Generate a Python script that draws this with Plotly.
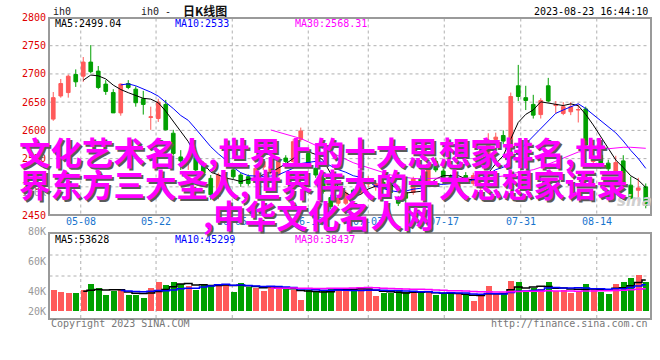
import plotly.graph_objects as go
import pandas as pd

# ---------------- data ----------------
dates = [
    "2023-04-27", "2023-04-28",
    "2023-05-04", "2023-05-05", "2023-05-08", "2023-05-09", "2023-05-10", "2023-05-11", "2023-05-12",
    "2023-05-15", "2023-05-16", "2023-05-17", "2023-05-18", "2023-05-19", "2023-05-22", "2023-05-23",
    "2023-05-24", "2023-05-25", "2023-05-26", "2023-05-29", "2023-05-30", "2023-05-31",
    "2023-06-01", "2023-06-02", "2023-06-05", "2023-06-06", "2023-06-07", "2023-06-08", "2023-06-09",
    "2023-06-12", "2023-06-13", "2023-06-14", "2023-06-15", "2023-06-16", "2023-06-19", "2023-06-20",
    "2023-06-21", "2023-06-26", "2023-06-27", "2023-06-28", "2023-06-29", "2023-06-30",
    "2023-07-03", "2023-07-04", "2023-07-05", "2023-07-06", "2023-07-07", "2023-07-10", "2023-07-11",
    "2023-07-12", "2023-07-13", "2023-07-14", "2023-07-17", "2023-07-18", "2023-07-19", "2023-07-20",
    "2023-07-21", "2023-07-24", "2023-07-25", "2023-07-26", "2023-07-27", "2023-07-28", "2023-07-31",
    "2023-08-01", "2023-08-02", "2023-08-03", "2023-08-04", "2023-08-07", "2023-08-08", "2023-08-09",
    "2023-08-10", "2023-08-11", "2023-08-14", "2023-08-15", "2023-08-16", "2023-08-17", "2023-08-18",
    "2023-08-21", "2023-08-22", "2023-08-23",
]
opens = [2620, 2661, 2667, 2699, 2696, 2721, 2705, 2682, 2667, 2631,
         2683, 2673, 2656, 2623, 2621, 2646, 2595, 2553, 2544, 2556,
         2539, 2515, 2483, 2508, 2530, 2521, 2518, 2509, 2535, 2527,
         2521, 2551, 2545, 2584, 2559, 2533, 2515, 2481, 2471, 2471,
         2494, 2490, 2505, 2500, 2508, 2508, 2481, 2490, 2490, 2514,
         2509, 2545, 2528, 2518, 2500, 2520, 2506, 2498, 2548, 2584,
         2591, 2568, 2679, 2658, 2646, 2628, 2679, 2644, 2630, 2633,
         2636, 2638, 2545, 2556, 2542, 2527, 2546, 2503, 2494, 2500]
highs = [2668, 2691, 2699, 2708, 2730, 2751, 2714, 2689, 2673, 2683,
         2689, 2678, 2670, 2642, 2656, 2654, 2601, 2565, 2558, 2560,
         2545, 2521, 2525, 2524, 2534, 2525, 2522, 2537, 2550, 2540,
         2550, 2556, 2585, 2605, 2566, 2538, 2520, 2486, 2485, 2494,
         2497, 2520, 2519, 2510, 2514, 2512, 2484, 2494, 2518, 2520,
         2548, 2552, 2533, 2522, 2512, 2526, 2525, 2510, 2595, 2596,
         2600, 2667, 2716, 2679, 2663, 2657, 2693, 2652, 2650, 2650,
         2646, 2642, 2562, 2570, 2548, 2555, 2556, 2518, 2516, 2506]
lows = [2617, 2658, 2658, 2677, 2686, 2701, 2673, 2663, 2631, 2626,
        2673, 2642, 2628, 2601, 2615, 2600, 2556, 2530, 2530, 2527,
        2520, 2477, 2478, 2504, 2514, 2500, 2502, 2505, 2530, 2522,
        2518, 2540, 2542, 2580, 2538, 2516, 2488, 2460, 2466, 2468,
        2478, 2486, 2500, 2493, 2495, 2486, 2466, 2470, 2486, 2500,
        2505, 2526, 2506, 2508, 2496, 2505, 2502, 2494, 2545, 2578,
        2576, 2556, 2652, 2636, 2621, 2621, 2650, 2630, 2627, 2627,
        2614, 2570, 2540, 2532, 2528, 2522, 2504, 2478, 2474, 2462]
closes = [2658, 2683, 2696, 2686, 2721, 2704, 2676, 2669, 2631, 2682,
          2676, 2649, 2646, 2624, 2650, 2601, 2559, 2546, 2545, 2530,
          2524, 2486, 2521, 2516, 2518, 2506, 2506, 2533, 2545, 2536,
          2545, 2545, 2580, 2599, 2542, 2521, 2492, 2465, 2481, 2489,
          2483, 2516, 2512, 2506, 2498, 2490, 2471, 2480, 2514, 2505,
          2540, 2530, 2510, 2515, 2505, 2510, 2520, 2505, 2582, 2588,
          2581, 2660, 2660, 2653, 2627, 2653, 2652, 2646, 2642, 2642,
          2637, 2574, 2553, 2536, 2532, 2543, 2507, 2480, 2498, 2467]
volumes = [37200, 33800, 30900, 32100, 37200, 46400, 39000, 27000, 35500, 37200,
           27000, 28000, 23500, 40700, 49900, 44700, 51000, 47500, 44100, 36700,
           47500, 45800, 47500, 46400, 33800, 49200, 42400, 40700, 35500, 41300,
           39500, 39500, 37200, 20000, 36700, 35500, 35500, 39500, 37200, 39500,
           36700, 39500, 38400, 25800, 31600, 31600, 35500, 32600, 30900, 31600,
           35500, 27000, 29800, 29800, 29800, 29800, 18300, 27000, 44000, 29800,
           32000, 52000, 50000, 34500, 40000, 37500, 50000, 35500, 37000, 30900,
           35500, 46400, 40100, 32600, 30300, 47500, 51000, 56200, 62400, 51000]

tick_dates = ["2023-05-08", "2023-05-22", "2023-06-05", "2023-06-19",
              "2023-07-03", "2023-07-17", "2023-07-31", "2023-08-14"]
price_ticks = [2800, 2750, 2700, 2650, 2600, 2550, 2500, 2450]
price_grid = [2750, 2700, 2650, 2600, 2550, 2500]
vol_tick_labels = ["100K", "80K", "60K", "40K", "20K"]
ma_periods = [5, 10, 30]
price_ma_last = [2499.04, 2533, 2568.31]
vol_ma_last = [53628, 45299, 38437]

symbol = "ih0"
chart_name = "日K线图"
timestamp = "2023-08-23 16:44:10"
copyright_text = "Copyright 2023 SINA.COM"
url_text = "http://finance.sina.com.cn"
overlay_lines = ["文化艺术名人,世界上的十大思想家排名,世",
                 "界东方三大圣人,世界伟大的十大思想家语录",
                 ",中华文化名人网"]

# ---------------- style / layout ----------------
W, H = 660, 360
RED, GREEN = "#ff5a5a", "#00a000"
MA_COLORS = ["#000000", "#0000ff", "#ff00ff"]
FRAME = "#9a9a9a"
GRID = "#b0b0b0"
MONO = "DejaVu Sans Mono"
CJK = "Noto Sans CJK SC"

# small pixel nudges of the date grid lines (Sina draws them on a fixed grid)
GRID_NUDGE_PX = [-2.5, -2.2, -1.0, 0.0, 0.0, 1.0, 2.5, 3.5]
BAR_PX = 7.5


def px(x):
    return x / W


def py(y):
    return 1 - y / H


X0, X1 = 49.5, 649.5
P_TOP, P_BOT = 19, 213.5
V_TOP, V_BOT = 234, 318
P_RANGE = [2452.8, 2797.3]
V_RANGE = [-11700, 132600]


def price_to_px(p):
    return P_TOP + (P_RANGE[1] - p) / (P_RANGE[1] - P_RANGE[0]) * (P_BOT - P_TOP)


fig = go.Figure()

# price candles
fig.add_trace(go.Candlestick(
    x=dates, open=opens, high=highs, low=lows, close=closes,
    increasing=dict(line=dict(color=RED, width=1), fillcolor=RED),
    decreasing=dict(line=dict(color=GREEN, width=1), fillcolor=GREEN),
    whiskerwidth=0, showlegend=False, hoverinfo="skip",
    xaxis="x", yaxis="y"))

close_s = pd.Series(closes, dtype=float)
for n, c in zip(ma_periods, MA_COLORS):
    fig.add_trace(go.Scatter(
        x=dates, y=close_s.rolling(n).mean(), mode="lines",
        line=dict(color=c, width=1), showlegend=False, hoverinfo="skip",
        xaxis="x", yaxis="y"))

# volume
bar_colors = [RED if c >= o else GREEN for o, c in zip(opens, closes)]
fig.add_trace(go.Bar(
    x=dates, y=volumes, marker=dict(color=bar_colors, line=dict(width=0)),
    width=0.8, showlegend=False, hoverinfo="skip", xaxis="x2", yaxis="y2"))
vol_s = pd.Series(volumes, dtype=float)
for n, c in zip(ma_periods, MA_COLORS):
    fig.add_trace(go.Scatter(
        x=dates, y=vol_s.rolling(n).mean(), mode="lines",
        line=dict(color=c, width=1.5, shape="hvh"), showlegend=False,
        hoverinfo="skip", xaxis="x2", yaxis="y2"))

axis_common = dict(showgrid=False, zeroline=False, showticklabels=False,
                   showline=True, linecolor=FRAME, linewidth=1.5, mirror=True,
                   ticks="")
fig.update_layout(
    width=W, height=H, margin=dict(l=0, r=0, t=0, b=0),
    paper_bgcolor="white", plot_bgcolor="white", showlegend=False,
    bargap=0,
    xaxis=dict(domain=[px(X0), px(X1)], type="category", categoryorder="array",
               categoryarray=dates, range=[-0.5, len(dates) - 0.5], anchor="y",
               rangeslider=dict(visible=False), **axis_common),
    yaxis=dict(domain=[py(P_BOT), py(P_TOP)], range=P_RANGE, anchor="x", **axis_common),
    xaxis2=dict(domain=[px(X0), px(X1)], type="category", categoryorder="array",
                categoryarray=dates, range=[-0.5, len(dates) - 0.5], anchor="y2",
                **axis_common),
    yaxis2=dict(domain=[py(V_BOT), py(V_TOP)], range=V_RANGE, anchor="x2", **axis_common),
)

grid_pos = [dates.index(d) + nudge / BAR_PX for d, nudge in zip(tick_dates, GRID_NUDGE_PX)]

shapes = []
grid_line = dict(color=GRID, width=1, dash="dot")
for p in price_grid:
    shapes.append(dict(type="line", xref="x domain", yref="y", x0=0, x1=1, y0=p, y1=p,
                       line=grid_line, layer="below"))
for g in grid_pos:
    shapes.append(dict(type="line", xref="x", yref="y domain", x0=g, x1=g, y0=0, y1=1,
                       line=grid_line, layer="below"))
    shapes.append(dict(type="line", xref="x2", yref="y2 domain", x0=g, x1=g, y0=0, y1=1,
                       line=grid_line, layer="below"))
for f in [0.5, 0.75]:
    shapes.append(dict(type="line", xref="x2 domain", yref="y2 domain", x0=0, x1=1,
                       y0=f, y1=f, line=grid_line, layer="below"))
fig.update_layout(shapes=shapes)

ann = []


def text(x, y, t, color="#000", size=10, family=MONO, xanchor="left", **kw):
    ann.append(dict(x=px(x), y=py(y), xref="paper", yref="paper", text=t,
                    showarrow=False, xanchor=xanchor, yanchor="middle",
                    font=dict(family=family, size=size, color=color, **kw),
                    borderpad=0))


# price axis labels (paper coordinates so 2800 / 2450 are not hidden)
for p in price_ticks:
    text(47, price_to_px(p), str(p), color="#e00000", xanchor="right")
# volume axis labels
for t, y in zip(vol_tick_labels, [192, 231, 261, 291, 311]):
    text(47, y, t, color="#999999", xanchor="right")

# date labels
for d, g in zip(tick_dates, grid_pos):
    ann.append(dict(x=g, y=py(221), xref="x", yref="paper", text=d[5:],
                    showarrow=False, xanchor="center", yanchor="middle",
                    font=dict(family=MONO, size=10, color="#1874cd"), borderpad=0))

# header
text(52, 11.5, symbol, color="#222")
text(140, 11, symbol + " -", color="#222")
text(182, 10.5, chart_name, color="#111", size=12, family=CJK, weight=700)
text(649, 11, timestamp, color="#000", xanchor="right")

# MA legends
for (n, v, c, x) in zip(ma_periods, price_ma_last, MA_COLORS, [54, 174, 294]):
    text(x, 24, f"MA{n}:{v:g}", color=c)
for (n, v, c, x) in zip(ma_periods, vol_ma_last, MA_COLORS, [54, 174, 294]):
    text(x, 239, f"MA{n}:{v:g}", color=c)

# footer
text(50, 323, copyright_text, color="#777")
text(649, 323, url_text, color="#777", xanchor="right")

# watermark
text(634, 201, "sina", color="#cfcfcf", size=15, family="DejaVu Sans",
     xanchor="center", weight=700, style="italic")

# overlay text
big = dict(family=CJK, size=31.5, color="#ff00ff", weight=700,
           shadow="2px 2px 0px #5a5a5a")
for line, (x, y, xa) in zip(overlay_lines, [(18, 151, "left"), (18, 182.5, "left"),
                                            (318, 214, "center")]):
    ann.append(dict(x=px(x), y=py(y), xref="paper", yref="paper", text=line,
                    showarrow=False, xanchor=xa, yanchor="middle", font=big,
                    borderpad=0))

fig.update_layout(annotations=ann)
fig.write_html("out.html", config={"displayModeBar": False},
               post_script="document.body.style.margin='0';")
